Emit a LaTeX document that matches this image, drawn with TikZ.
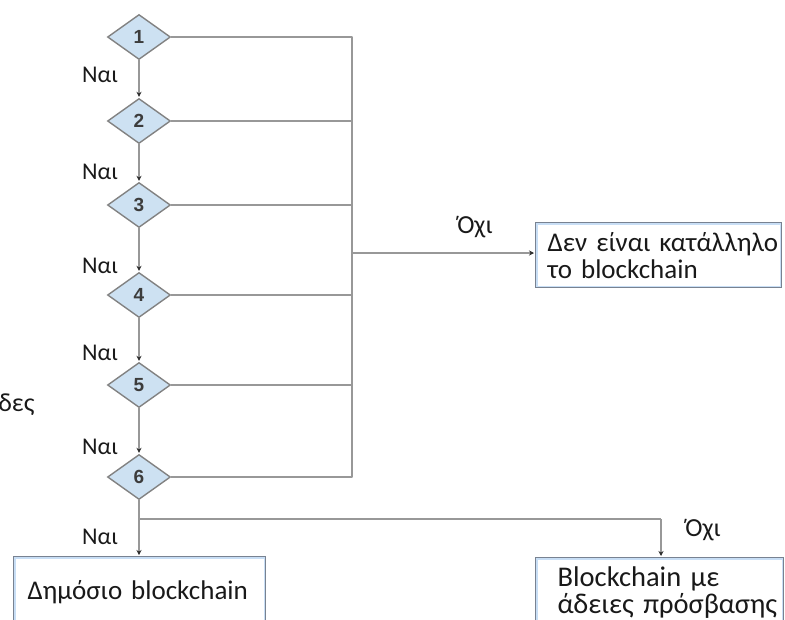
\documentclass[tikz,border=0pt]{standalone}
\usepackage{fontspec}
\setmainfont{Carlito}
\newfontfamily\labelfont{Liberation Sans}
\usetikzlibrary{shapes.geometric,arrows.meta}
\definecolor{linegray}{RGB}{152,152,152}
\definecolor{tipgray}{RGB}{45,45,45}
\definecolor{diafill}{RGB}{205,225,242}
\definecolor{diaedge}{RGB}{130,130,130}
\definecolor{digitgray}{RGB}{60,60,60}
\definecolor{boxedge}{RGB}{120,130,145}
\definecolor{boxtint}{RGB}{200,222,245}
\definecolor{txt}{RGB}{25,25,25}
\begin{document}
\begin{tikzpicture}[x=1pt,y=-1pt,
  decision/.style={diamond, draw=diaedge, fill=diafill, line width=1.4pt,
    inner sep=0pt, minimum width=63pt, minimum height=45pt,
    font=\labelfont\bfseries\fontsize{19}{19}\selectfont, text=digitgray},
  link/.style={draw=linegray, line width=2.6pt},
  arrow/.style={link, -{Stealth[length=5pt,width=5pt,color=tipgray]}, shorten >=1pt},
  yes/.style={font=\fontsize{24}{24}\selectfont, text=txt},
  no/.style={font=\fontsize{26}{26}\selectfont, text=txt},
  outcome/.style={rectangle, draw=boxedge, fill=white, line width=1.3pt,
    anchor=north west, align=left, inner ysep=0pt, text=txt,
    font=\fontsize{27}{27}\selectfont,
    path picture={\draw[boxtint,line width=4pt]
      (path picture bounding box.south west) rectangle
      (path picture bounding box.north east);}}
]
\useasboundingbox (0,0) rectangle (785,619);
\clip (0,0) rectangle (785,619);

% decision diamonds
\node[decision] (d1) at (139,37) {1};
\node[decision] (d2) at (139,121) {2};
\node[decision] (d3) at (139,205) {3};
\node[decision] (d4) at (139,295) {4};
\node[decision] (d5) at (139,385) {5};
\node[decision] (d6) at (139,477) {6};

% outcome boxes (lines kept whole with \mbox)
\node[outcome, minimum width=246pt, minimum height=65pt, text width=222pt,
  inner xsep=12pt] (unfit) at (535,222)
  {\mbox{Δεν είναι κατάλληλο}\\\mbox{το blockchain}};
\node[outcome, minimum width=252pt, minimum height=72pt, text width=224pt,
  inner xsep=14pt] (public) at (13,556) {Δημόσιο blockchain};
\node[outcome, minimum width=248pt, minimum height=70pt, text width=204pt,
  inner xsep=22pt, font=\fontsize{28.5}{27}\selectfont] (permissioned) at (535,557)
  {\mbox{Blockchain με}\\\mbox{άδειες πρόσβασης}};

% "yes" chain down the diamonds
\draw[arrow] (d1.south) -- (d2.north);
\draw[arrow] (d2.south) -- (d3.north);
\draw[arrow] (d3.south) -- (d4.north);
\draw[arrow] (d4.south) -- (d5.north);
\draw[arrow] (d5.south) -- (d6.north);

% "no" branches collected on a bus
\coordinate (b1) at (352,37);
\coordinate (b2) at (352,121);
\coordinate (b3) at (352,205);
\coordinate (b4) at (352,295);
\coordinate (b5) at (352,385);
\coordinate (b6) at (352,477);
\coordinate (bm) at (352,253);
\draw[link, line join=round] (d1.east) -- (b1) -- (b6) -- (d6.east);
\draw[link] (d2.east) -- (b2);
\draw[link] (d3.east) -- (b3);
\draw[link] (d4.east) -- (b4);
\draw[link] (d5.east) -- (b5);
\draw[arrow] (bm) -- (bm -| unfit.west);

% final split after diamond 6
\coordinate (j) at (139,519);
\coordinate (jr) at (661,519);
\draw[link, line join=round] (d6.south) -- (j) -- (jr);
\draw[arrow] (j) -- (j |- public.north);
\draw[arrow] (jr) -- (jr |- permissioned.north);

% labels
\node[yes] (y1) at (100,75) {Ναι};
\node[yes] (y2) at (100,172) {Ναι};
\node[yes] (y3) at (100,266) {Ναι};
\node[yes] (y4) at (100,353) {Ναι};
\node[yes] (y5) at (100,447) {Ναι};
\node[yes] (y6) at (100,537) {Ναι};
\node[no] (n1) at (475,227) {Όχι};
\node[no] (n2) at (703,530) {Όχι};
\node[no, anchor=east] (cut) at (38,405) {δες};
\end{tikzpicture}
\end{document}
